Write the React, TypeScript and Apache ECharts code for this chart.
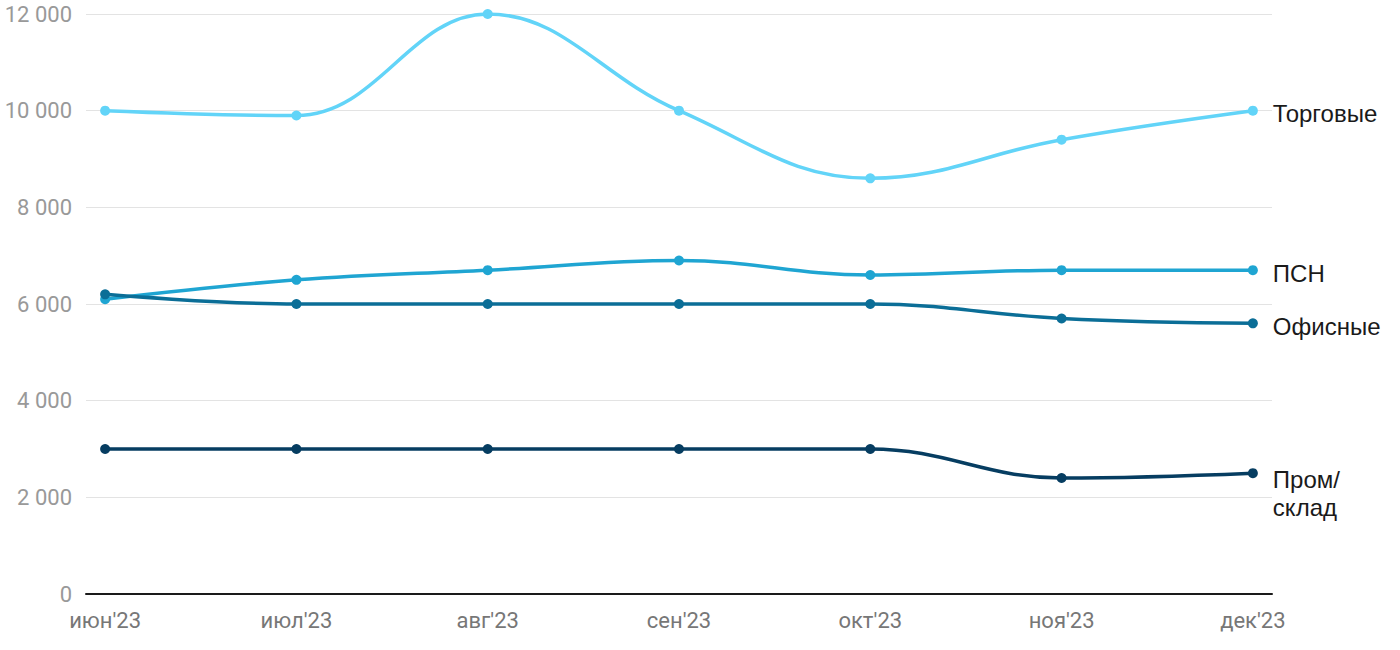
import React, { useEffect, useRef } from "react";
import * as echarts from "echarts";

const categories = ["июн'23", "июл'23", "авг'23", "сен'23", "окт'23", "ноя'23", "дек'23"];
const torgovye = [10000, 9900, 12000, 10000, 8600, 9400, 10000];
const psn = [6100, 6500, 6700, 6900, 6600, 6700, 6700];
const ofisnye = [6200, 6000, 6000, 6000, 6000, 5700, 5600];
const promsklad = [3000, 3000, 3000, 3000, 3000, 2400, 2500];
const yTicks = [0, 2000, 4000, 6000, 8000, 10000, 12000];

const seriesDefs = [
  { name: "Торговые", data: torgovye, color: "#62d4f8", offsetY: 3 },
  { name: "ПСН", data: psn, color: "#1fa5d2", offsetY: 3 },
  { name: "Офисные", data: ofisnye, color: "#0b6e97", offsetY: 3 },
  { name: "Пром/\nсклад", data: promsklad, color: "#063d61", offsetY: 20 },
];

export default function App() {
  const ref = useRef<HTMLDivElement>(null);
  useEffect(() => {
    if (!ref.current) return;
    const chart = echarts.init(ref.current, undefined, { renderer: "svg" });
    const fmt = (v: number) => String(v).replace(/\B(?=(\d{3})+(?!\d))/g, " ");
    chart.setOption({
      animation: false,
      textStyle: { fontFamily: "Roboto" },
      grid: {
        left: 86,
        right: 128,
        top: 14,
        bottom: 56,
        containLabel: false,
        outerBoundsMode: "none",
      },
      xAxis: {
        type: "value",
        min: -0.1,
        max: 6.1,
        axisLine: { show: true, lineStyle: { color: "#1a1a1a", width: 2 } },
        axisTick: { show: false },
        splitLine: { show: false },
        axisLabel: {
          customValues: categories.map((_, i) => i),
          formatter: (v: number) => categories[Math.round(v)] ?? "",
          color: "#777777",
          fontSize: 22,
          margin: 15,
          fontFamily: "Roboto",
        },
      },
      yAxis: {
        type: "value",
        min: 0,
        max: 12000,
        interval: 2000,
        axisLine: { show: false },
        axisTick: { show: false },
        splitLine: { show: true, lineStyle: { color: "#e3e3e3", width: 1 } },
        axisLabel: {
          formatter: (v: number) => (yTicks.includes(v) ? fmt(v) : ""),
          color: "#999999",
          fontSize: 22,
          margin: 14,
          fontFamily: "Roboto",
        },
      },
      series: seriesDefs.map((s) => ({
        type: "line",
        name: s.name,
        data: s.data.map((v, i) => [i, v]),
        smooth: 0.4,
        symbol: "circle",
        symbolSize: 10,
        lineStyle: { color: s.color, width: 3.5 },
        itemStyle: { color: s.color },
        endLabel: {
          show: true,
          formatter: () => s.name,
          color: "#1a1a1a",
          fontSize: 24,
          lineHeight: 28,
          distance: 20,
          offset: [0, s.offsetY],
          fontFamily: "Liberation Sans",
        },
        emphasis: { disabled: true },
      })),
    });
    return () => chart.dispose();
  }, []);
  return (
    <div
      ref={ref}
      style={{ position: "absolute", left: 0, top: 0, width: 1400, height: 650 }}
    />
  );
}
